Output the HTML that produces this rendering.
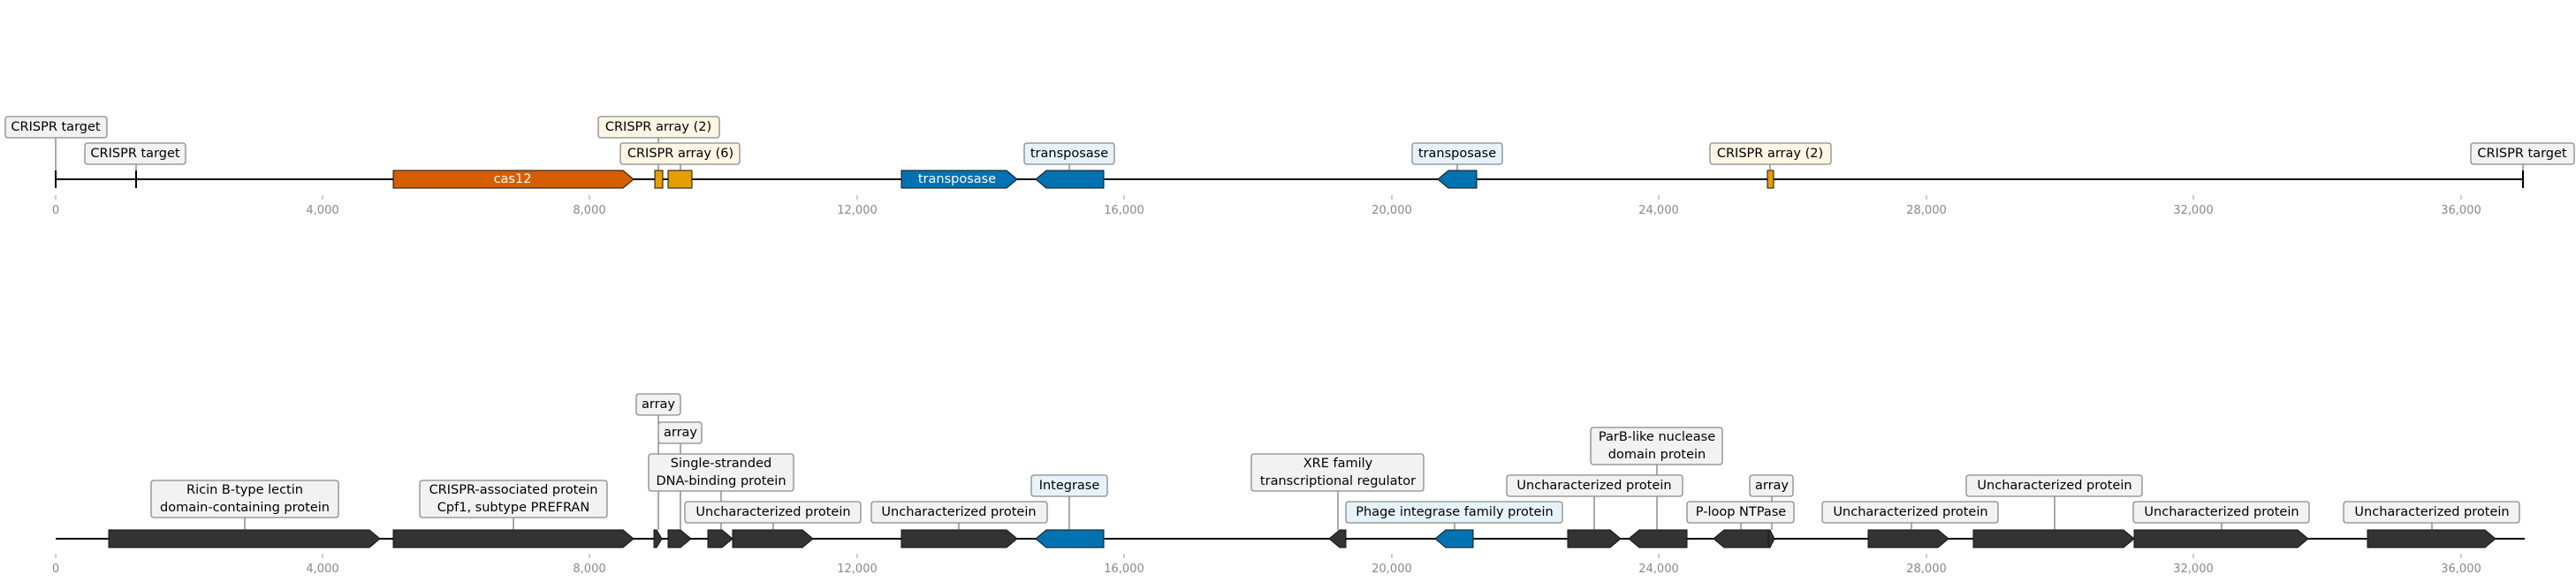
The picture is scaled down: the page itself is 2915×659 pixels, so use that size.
<!DOCTYPE html>
<html><head><meta charset="utf-8"><style>
html,body{margin:0;padding:0;background:#fff;}
svg{display:block;}
text{font-family:"DejaVu Sans","Liberation Sans",sans-serif;}
.lb{font-size:14.5px;fill:#000;text-anchor:middle;dominant-baseline:central;}
.bx{fill:#f2f2f2;stroke:#8a8a8a;stroke-width:1.3;}
.cr{fill:#fdf6e4;stroke:#8a8a8a;stroke-width:1.3;}
.bl{fill:#e6f3fb;stroke:#8a8a8a;stroke-width:1.3;}
.ld{stroke:#555;stroke-width:1;}
.tk{stroke:#999;stroke-width:1;}
.tl{font-size:13px;fill:#888;text-anchor:middle;}
.g{stroke:#111;stroke-width:1;}
.d{fill:#333;}
</style></head><body>
<svg width="2915" height="659" viewBox="0 0 2915 659" xmlns="http://www.w3.org/2000/svg">
<line x1="63" y1="203" x2="2855" y2="203" stroke="#000" stroke-width="2"/>
<g class="tk">
<line x1="63" y1="221" x2="63" y2="226"/><line x1="365" y1="221" x2="365" y2="226"/><line x1="667" y1="221" x2="667" y2="226"/><line x1="970" y1="221" x2="970" y2="226"/><line x1="1272" y1="221" x2="1272" y2="226"/><line x1="1575" y1="221" x2="1575" y2="226"/><line x1="1877" y1="221" x2="1877" y2="226"/><line x1="2180" y1="221" x2="2180" y2="226"/><line x1="2482" y1="221" x2="2482" y2="226"/><line x1="2785" y1="221" x2="2785" y2="226"/>
</g>
<g class="tl">
<text x="63" y="242">0</text><text x="365" y="242">4,000</text><text x="667" y="242">8,000</text><text x="970" y="242">12,000</text><text x="1272" y="242">16,000</text><text x="1575" y="242">20,000</text><text x="1877" y="242">24,000</text><text x="2180" y="242">28,000</text><text x="2482" y="242">32,000</text><text x="2785" y="242">36,000</text>
</g>
<line x1="63" y1="193" x2="63" y2="213" stroke="#000" stroke-width="2"/>
<line x1="154" y1="193" x2="154" y2="213" stroke="#000" stroke-width="2"/>
<line x1="2855" y1="193" x2="2855" y2="213" stroke="#000" stroke-width="2"/>
<polygon class="g" fill="#d55e00" points="445,193 705,193 717,203 705,213 445,213"/>
<text x="580" y="203" class="lb" style="fill:#fff">cas12</text>
<rect class="g" fill="#e69f00" x="741" y="193" width="9" height="20"/>
<rect class="g" fill="#e69f00" x="756" y="193" width="27" height="20"/>
<polygon class="g" fill="#0072b2" points="1020,193 1139,193 1151,203 1139,213 1020,213"/>
<text x="1083" y="203" class="lb" style="fill:#fff">transposase</text>
<polygon class="g" fill="#0072b2" points="1172,203 1184,193 1249,193 1249,213 1184,213"/>
<polygon class="g" fill="#0072b2" points="1627,203 1639,193 1671,193 1671,213 1639,213"/>
<rect class="g" fill="#e69f00" x="2000" y="193" width="7" height="20"/>
<g class="ld">
<line x1="63" y1="156" x2="63" y2="193"/><line x1="154" y1="186" x2="154" y2="193"/>
<line x1="745" y1="156" x2="745" y2="193"/><line x1="770" y1="186" x2="770" y2="193"/>
<line x1="1210" y1="186" x2="1210" y2="193"/><line x1="1649" y1="186" x2="1649" y2="193"/>
<line x1="2003" y1="186" x2="2003" y2="193"/><line x1="2855" y1="186" x2="2855" y2="193"/>
</g>
<rect class="bx" x="6" y="132" width="115" height="24" rx="3"/><text class="lb" x="63" y="144">CRISPR target</text>
<rect class="bx" x="96" y="162" width="114" height="24" rx="3"/><text class="lb" x="153" y="174">CRISPR target</text>
<rect class="cr" x="677" y="132" width="137" height="24" rx="3"/><text class="lb" x="745" y="144">CRISPR array (2)</text>
<rect class="cr" x="702" y="162" width="135" height="24" rx="3"/><text class="lb" x="770" y="174">CRISPR array (6)</text>
<rect class="bl" x="1159" y="162" width="102" height="24" rx="3"/><text class="lb" x="1210" y="174">transposase</text>
<rect class="bl" x="1598" y="162" width="102" height="24" rx="3"/><text class="lb" x="1649" y="174">transposase</text>
<rect class="cr" x="1935" y="162" width="137" height="24" rx="3"/><text class="lb" x="2003" y="174">CRISPR array (2)</text>
<rect class="bx" x="2796" y="162" width="117" height="24" rx="3"/><text class="lb" x="2854" y="174">CRISPR target</text>

<line x1="63" y1="610" x2="2857" y2="610" stroke="#000" stroke-width="2"/>
<g class="tk">
<line x1="63" y1="627" x2="63" y2="632"/><line x1="365" y1="627" x2="365" y2="632"/><line x1="667" y1="627" x2="667" y2="632"/><line x1="970" y1="627" x2="970" y2="632"/><line x1="1272" y1="627" x2="1272" y2="632"/><line x1="1575" y1="627" x2="1575" y2="632"/><line x1="1877" y1="627" x2="1877" y2="632"/><line x1="2180" y1="627" x2="2180" y2="632"/><line x1="2482" y1="627" x2="2482" y2="632"/><line x1="2785" y1="627" x2="2785" y2="632"/>
</g>
<g class="tl">
<text x="63" y="648">0</text><text x="365" y="648">4,000</text><text x="667" y="648">8,000</text><text x="970" y="648">12,000</text><text x="1272" y="648">16,000</text><text x="1575" y="648">20,000</text><text x="1877" y="648">24,000</text><text x="2180" y="648">28,000</text><text x="2482" y="648">32,000</text><text x="2785" y="648">36,000</text>
</g>
<g class="g d">
<polygon points="123,600 418,600 430,610 418,620 123,620"/>
<polygon points="445,600 705,600 717,610 705,620 445,620"/>
<polygon points="740,600 743,600 749,610 743,620 740,620"/>
<polygon points="756,600 770,600 782,610 770,620 756,620"/>
<polygon points="801,600 817,600 829,610 817,620 801,620"/>
<polygon points="829,600 908,600 920,610 908,620 829,620"/>
<polygon points="1020,600 1139,600 1151,610 1139,620 1020,620"/>
<polygon points="1504,610 1516,600 1523,600 1523,620 1516,620"/>
<polygon points="1774,600 1822,600 1834,610 1822,620 1774,620"/>
<polygon points="1843,610 1855,600 1909,600 1909,620 1855,620"/>
<polygon points="1939,610 1951,600 2001,600 2001,620 1951,620"/>
<polygon points="2001,600 2003,600 2008,610 2003,620 2001,620"/>
<polygon points="2114,600 2193,600 2205,610 2193,620 2114,620"/>
<polygon points="2233,600 2403,600 2415,610 2403,620 2233,620"/>
<polygon points="2415,600 2600,600 2612,610 2600,620 2415,620"/>
<polygon points="2679,600 2812,600 2824,610 2812,620 2679,620"/>
</g>
<polygon class="g" fill="#0072b2" points="1172,610 1184,600 1249,600 1249,620 1184,620"/>
<polygon class="g" fill="#0072b2" points="1624,610 1636,600 1667,600 1667,620 1636,620"/>
<g class="ld">
<line x1="277" y1="586" x2="277" y2="600"/>
<line x1="581" y1="586" x2="581" y2="600"/>
<line x1="745" y1="470" x2="745" y2="600"/>
<line x1="770" y1="502" x2="770" y2="600"/>
<line x1="816" y1="556" x2="816" y2="600"/>
<line x1="875" y1="592" x2="875" y2="600"/>
<line x1="1085" y1="592" x2="1085" y2="600"/>
<line x1="1210" y1="562" x2="1210" y2="600"/>
<line x1="1514" y1="556" x2="1514" y2="600"/>
<line x1="1646" y1="592" x2="1646" y2="600"/>
<line x1="1804" y1="562" x2="1804" y2="600"/>
<line x1="1875" y1="526" x2="1875" y2="600"/>
<line x1="1970" y1="592" x2="1970" y2="600"/>
<line x1="2005" y1="562" x2="2005" y2="600"/>
<line x1="2163" y1="592" x2="2163" y2="600"/>
<line x1="2325" y1="562" x2="2325" y2="600"/>
<line x1="2514" y1="592" x2="2514" y2="600"/>
<line x1="2752" y1="592" x2="2752" y2="600"/>
</g>
<rect class="bx" x="171" y="544" width="212" height="42" rx="3"/><text class="lb" x="277" y="555">Ricin B-type lectin</text><text class="lb" x="277" y="575">domain-containing protein</text>
<rect class="bx" x="475" y="544" width="212" height="42" rx="3"/><text class="lb" x="581" y="555">CRISPR-associated protein</text><text class="lb" x="581" y="575">Cpf1, subtype PREFRAN</text>
<rect class="bx" x="720" y="446" width="50" height="24" rx="3"/><text class="lb" x="745" y="458">array</text>
<rect class="bx" x="745" y="478" width="49" height="24" rx="3"/><text class="lb" x="770" y="490">array</text>
<rect class="bx" x="734" y="514" width="164" height="42" rx="3"/><text class="lb" x="816" y="525">Single-stranded</text><text class="lb" x="816" y="545">DNA-binding protein</text>
<rect class="bx" x="775" y="568" width="199" height="24" rx="3"/><text class="lb" x="875" y="580">Uncharacterized protein</text>
<rect class="bx" x="986" y="568" width="199" height="24" rx="3"/><text class="lb" x="1085" y="580">Uncharacterized protein</text>
<rect class="bl" x="1167" y="538" width="86" height="24" rx="3"/><text class="lb" x="1210" y="550">Integrase</text>
<rect class="bx" x="1416" y="514" width="195" height="42" rx="3"/><text class="lb" x="1514" y="525">XRE family</text><text class="lb" x="1514" y="545">transcriptional regulator</text>
<rect class="bl" x="1523" y="568" width="245" height="24" rx="3"/><text class="lb" x="1646" y="580">Phage integrase family protein</text>
<rect class="bx" x="1705" y="538" width="199" height="24" rx="3"/><text class="lb" x="1804" y="550">Uncharacterized protein</text>
<rect class="bx" x="1800" y="484" width="149" height="42" rx="3"/><text class="lb" x="1875" y="495">ParB-like nuclease</text><text class="lb" x="1875" y="515">domain protein</text>
<rect class="bx" x="1909" y="568" width="121" height="24" rx="3"/><text class="lb" x="1970" y="580">P-loop NTPase</text>
<rect class="bx" x="1980" y="538" width="49" height="24" rx="3"/><text class="lb" x="2005" y="550">array</text>
<rect class="bx" x="2062" y="568" width="199" height="24" rx="3"/><text class="lb" x="2162" y="580">Uncharacterized protein</text>
<rect class="bx" x="2225" y="538" width="199" height="24" rx="3"/><text class="lb" x="2325" y="550">Uncharacterized protein</text>
<rect class="bx" x="2414" y="568" width="199" height="24" rx="3"/><text class="lb" x="2514" y="580">Uncharacterized protein</text>
<rect class="bx" x="2652" y="568" width="199" height="24" rx="3"/><text class="lb" x="2752" y="580">Uncharacterized protein</text>
</svg>
</body></html>
